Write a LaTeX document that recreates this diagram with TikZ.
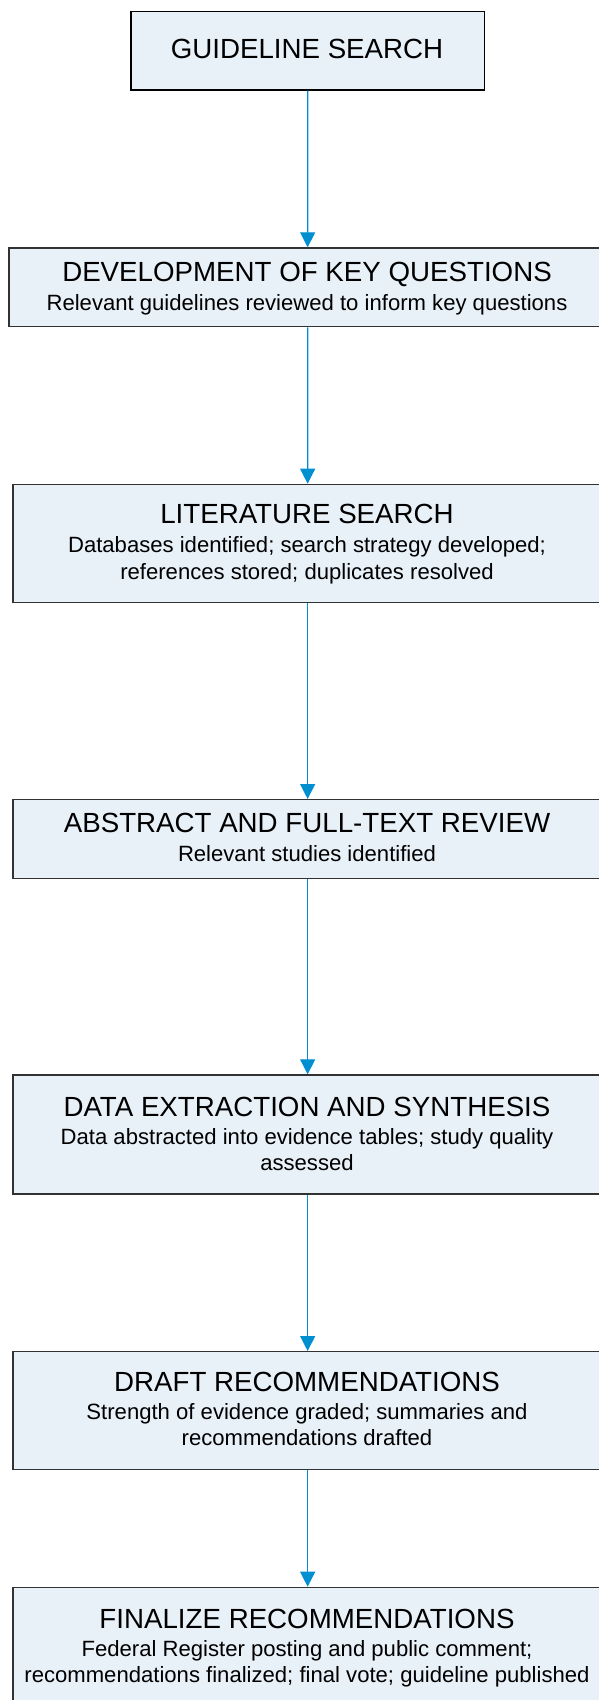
\documentclass[tikz,border=0pt]{standalone}
\usepackage{fontspec}
\setmainfont{Liberation Sans}
\usetikzlibrary{arrows.meta}
\definecolor{boxfill}{RGB}{232,240,248}
\definecolor{boxline}{RGB}{50,50,50}
\definecolor{arrblue}{RGB}{0,144,210}
\tikzset{
  stepbox/.style={draw=boxline, line width=1.3pt, fill=boxfill, rectangle, inner sep=0pt, anchor=north west},
  titletxt/.style={anchor=base, inner sep=0pt, font=\fontsize{27.7}{33}\selectfont},
  subtxt/.style={anchor=base, inner sep=0pt, font=\fontsize{22.1}{26.6}\selectfont},
  flow/.style={draw=arrblue, line width=1.2pt, -{Triangle[width=15pt,length=15pt]}}
}
\begin{document}
\begin{tikzpicture}[x=1pt,y=-1pt]
\useasboundingbox (0,0) rectangle (599,1700);
\clip (0,0) rectangle (599,1700);
\fill[white] (0,0) rectangle (599,1700);
% boxes
\node[stepbox, draw=black, minimum width=353.7pt, minimum height=78.8pt] (G) at (130.3,10.5) {};
\node[stepbox, minimum width=597.2pt, minimum height=78.7pt] (D) at (8.4,247.3) {};
\node[stepbox, minimum width=589.6pt, minimum height=118pt] (L) at (12.2,483.7) {};
\node[stepbox, minimum width=589.6pt, minimum height=78.7pt] (A) at (12.2,799) {};
\node[stepbox, minimum width=589.6pt, minimum height=119pt] (X) at (12.2,1074.3) {};
\node[stepbox, minimum width=589.6pt, minimum height=118pt] (R) at (12.2,1351) {};
\node[stepbox, minimum width=589.6pt, minimum height=118pt] (F) at (12.2,1586.7) {};
% texts
\node[titletxt] (Gt) at (307,58.8) {GUIDELINE SEARCH};
\node[titletxt] (Dt) at (307,281.7) {DEVELOPMENT OF KEY QUESTIONS};
\node[subtxt] (Ds1) at (307,310.5) {Relevant guidelines reviewed to inform key questions};
\node[titletxt] (Lt) at (307,523.3) {LITERATURE SEARCH};
\node[subtxt] (Ls1) at (307,552.4) {Databases identified; search strategy developed;};
\node[subtxt] (Ls2) at (307,579.1) {references stored; duplicates resolved};
\node[titletxt] (At) at (307,832.7) {ABSTRACT AND FULL-TEXT REVIEW};
\node[subtxt] (As1) at (307,861.7) {Relevant studies identified};
\node[titletxt] (Xt) at (307,1116) {DATA EXTRACTION AND SYNTHESIS};
\node[subtxt] (Xs1) at (307,1144.2) {Data abstracted into evidence tables; study quality};
\node[subtxt] (Xs2) at (307,1170.9) {assessed};
\node[titletxt] (Rt) at (307,1391.7) {DRAFT RECOMMENDATIONS};
\node[subtxt] (Rs1) at (307,1419.2) {Strength of evidence graded; summaries and};
\node[subtxt] (Rs2) at (307,1445.9) {recommendations drafted};
\node[titletxt] (Ft) at (307,1628.3) {FINALIZE RECOMMENDATIONS};
\node[subtxt] (Fs1) at (307,1656) {Federal Register posting and public comment;};
\node[subtxt] (Fs2) at (307,1682.6) {recommendations finalized; final vote; guideline published};
% connectors
\draw[flow] (G.south) -- (D.north);
\draw[flow] (D.south) -- (L.north);
\draw[flow] (L.south) -- (A.north);
\draw[flow] (A.south) -- (X.north);
\draw[flow] (X.south) -- (R.north);
\draw[flow] (R.south) -- (F.north);
\end{tikzpicture}
\end{document}
